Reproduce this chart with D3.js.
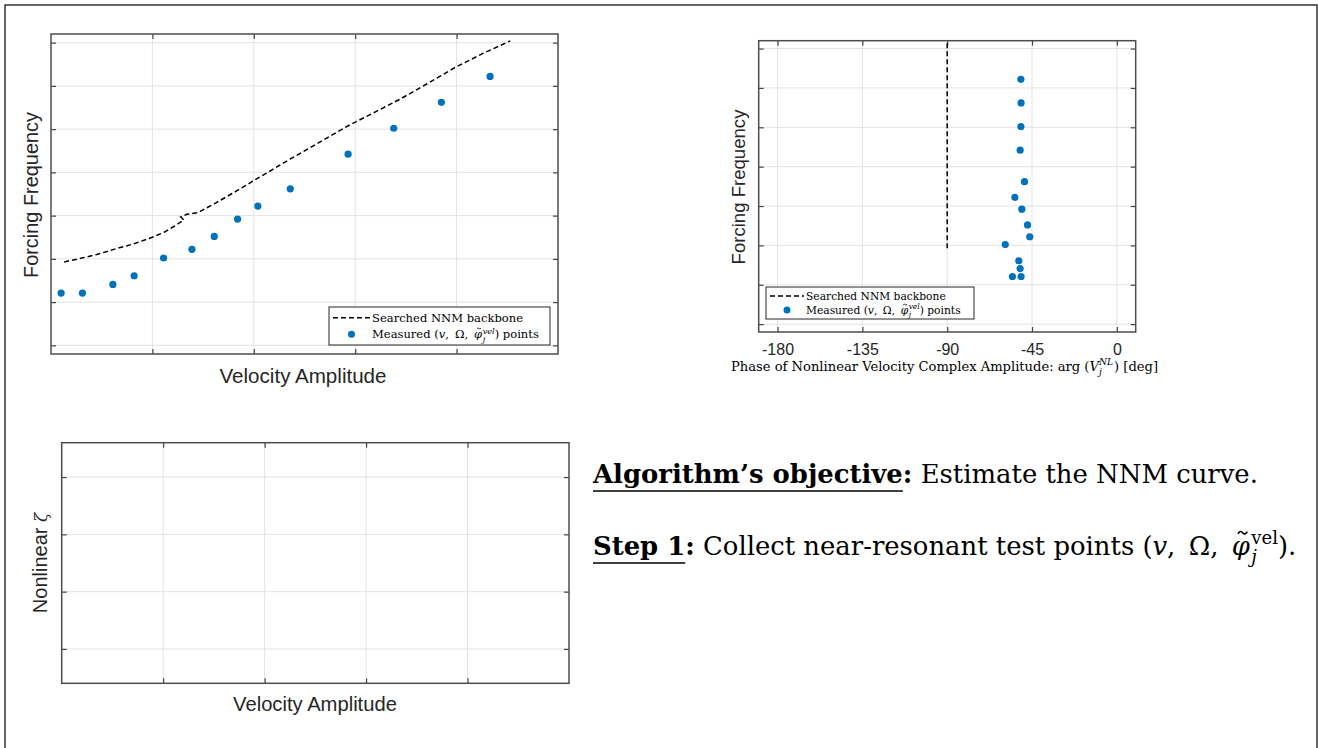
<!DOCTYPE html>
<html><head><meta charset="utf-8">
<script src="https://cdn.jsdelivr.net/npm/d3@7"></script>
<style>body{margin:0;background:#fff}svg{display:block}</style>
</head><body>
<svg id="c" width="1318" height="748"></svg>
<script>
// ---------- data ----------
const velocity  = [0.10, 0.31, 0.61, 0.82, 1.11, 1.39, 1.61, 1.84, 2.04, 2.36, 2.93, 3.38, 3.85, 4.33];
const frequency = [1.21, 1.21, 1.41, 1.61, 2.02, 2.22, 2.52, 2.92, 3.22, 3.62, 4.42, 5.02, 5.62, 6.22];
const phase     = [-55.4, -50.8, -51.3, -52.0, -59.2, -46.2, -47.4, -50.4, -54.1, -49.0, -51.3, -50.9, -50.8, -50.9];
const backboneVelocity  = [0.13, 0.27, 0.45, 0.62, 0.82, 1.00, 1.12, 1.22, 1.31, 1.28, 1.34, 1.45, 1.63, 1.83, 2.00, 2.18, 2.36, 2.65, 2.94, 3.20, 3.44, 3.71, 3.98, 4.25, 4.53];
const backboneFrequency = [1.93, 2.00, 2.10, 2.22, 2.35, 2.50, 2.62, 2.76, 2.90, 2.97, 3.03, 3.07, 3.30, 3.57, 3.81, 4.06, 4.31, 4.70, 5.09, 5.40, 5.69, 6.05, 6.42, 6.74, 7.04];
const backbonePhase          = [-90, -90];
const backbonePhaseFrequency = [1.93, 7.2];
const phaseTicks     = [-180, -135, -90, -45, 0];
const velocityTicks  = [1, 2, 3, 4];
const frequencyTicks = [0, 1, 2, 3, 4, 5, 6, 7];
const zetaTicks      = [0, 1, 2, 3];

// ---------- setup ----------
const svg = d3.select("#c");
const SANS = "'Liberation Sans', Arial, Helvetica, sans-serif";
const SERIF = "'DejaVu Serif', 'Liberation Serif', serif";
const BLUE = "#0072BD";

svg.append("rect").attr("x", 5).attr("y", 5).attr("width", 1312).attr("height", 770)
  .attr("fill", "none").attr("stroke", "#333").attr("stroke-width", 1.5);

function fit(t, target) {
  const w = t.node().getComputedTextLength();
  const fs = parseFloat(t.attr("font-size"));
  const nfs = fs * target / w;
  t.attr("font-size", nfs.toFixed(2));
  return nfs;
}

function panel(p, xDom, yDom, xTicks, yTicks, xLabeled) {
  const x = d3.scaleLinear().domain(xDom).range([p.l, p.r]);
  const y = d3.scaleLinear().domain(yDom).range([p.b, p.t]);
  const g = svg.append("g");
  g.append("g").selectAll("line").data(xTicks).join("line")
    .attr("x1", d => x(d)).attr("x2", d => x(d)).attr("y1", p.t).attr("y2", p.b)
    .attr("stroke", "#e3e3e3").attr("stroke-width", 1);
  g.append("g").selectAll("line").data(yTicks).join("line")
    .attr("y1", d => y(d)).attr("y2", d => y(d)).attr("x1", p.l).attr("x2", p.r)
    .attr("stroke", "#e3e3e3").attr("stroke-width", 1);
  const ax = (axis, tr) => {
    const a = g.append("g").attr("transform", tr).call(axis);
    a.select(".domain").remove();
    a.selectAll(".tick line").attr("stroke", "#444").attr("stroke-width", 1.2);
    return a;
  };
  const bx = ax(d3.axisBottom(x).tickValues(xTicks).tickSizeInner(-5).tickSizeOuter(0).tickPadding(12)
      .tickFormat(xLabeled ? (d => String(d)) : ""), `translate(0,${p.b})`);
  bx.selectAll("text").attr("font-family", SANS).attr("font-size", 16).attr("fill", "#262626");
  ax(d3.axisTop(x).tickValues(xTicks).tickSizeInner(-5).tickSizeOuter(0).tickFormat(""), `translate(0,${p.t})`);
  ax(d3.axisLeft(y).tickValues(yTicks).tickSizeInner(-5).tickSizeOuter(0).tickFormat(""), `translate(${p.l},0)`);
  ax(d3.axisRight(y).tickValues(yTicks).tickSizeInner(-5).tickSizeOuter(0).tickFormat(""), `translate(${p.r},0)`);
  g.append("rect").attr("x", p.l).attr("y", p.t).attr("width", p.r - p.l).attr("height", p.b - p.t)
    .attr("fill", "none").attr("stroke", "#4d4d4d").attr("stroke-width", 1.5);
  return { x, y, g };
}

function label(txt, x, y, rot, target, fs) {
  const t = svg.append("text").attr("font-family", SANS).attr("font-size", fs || 20).attr("fill", "#262626")
    .attr("text-anchor", "middle")
    .attr("transform", `translate(${x},${y}) rotate(${rot})`).text(txt);
  if (target) fit(t, target);
  return t;
}

// tilde accent (drawn as a path) over a tspan's first glyph
function tilde(g, tsp, fs, baseline) {
  const e = tsp.node().getExtentOfChar(0);
  const cx = e.x + e.width * 0.6, w = fs * 0.36, h = fs * 0.07;
  const y0 = baseline - fs * 0.86, x0 = cx - w / 2;
  g.append("path")
    .attr("d", `M${x0},${y0 + h * 0.6} Q${x0 + w / 4},${y0 - h * 1.6} ${x0 + w / 2},${y0} T${x0 + w},${y0 - h * 0.6}`)
    .attr("fill", "none").attr("stroke", "#000").attr("stroke-width", Math.max(0.8, fs * 0.065));
}

// phi with stacked sub j / superscript vel
function phiVel(g, t, fs, baseline, supItalic) {
  const phi = t.append("tspan").attr("font-style", "italic").text("\u03C6");
  const sup = t.append("tspan").attr("font-size", fs * 0.7).attr("dx", fs * 0.05).attr("dy", -fs * 0.42).text("vel");
  if (supItalic) sup.attr("font-style", "italic");
  const supW = sup.node().getComputedTextLength();
  const sub = t.append("tspan").attr("font-style", "italic").attr("font-size", fs * 0.7).attr("dx", -supW).attr("dy", fs * 0.72).text("j");
  const subW = sub.node().getComputedTextLength();
  tilde(g, phi, fs, baseline);
  return { supW, subW };
}

// legend with math
function legend(x0, y0, w, h, target, sampleW) {
  const g = svg.append("g");
  g.append("rect").attr("x", x0).attr("y", y0).attr("width", w).attr("height", h)
    .attr("fill", "#fff").attr("stroke", "#262626").attr("stroke-width", 1);
  const r1 = y0 + h * 0.28, r2 = y0 + h * 0.72;
  g.append("line").attr("x1", x0 + 4).attr("x2", x0 + 4 + sampleW).attr("y1", r1).attr("y2", r1)
    .attr("stroke", "#000").attr("stroke-width", 1.5).attr("stroke-dasharray", "5,3");
  g.append("circle").attr("cx", x0 + 4 + sampleW / 2).attr("cy", r2).attr("r", 3.5).attr("fill", BLUE);
  const tx = x0 + 6 + sampleW;
  const t1 = g.append("text").attr("x", tx).attr("font-family", SERIF).attr("font-size", 12)
    .attr("fill", "#000").text("Searched NNM backbone");
  const fs = fit(t1, target);
  t1.attr("y", r1 + fs * 0.35);
  const b2 = r2 + fs * 0.35;
  const t = g.append("text").attr("x", tx).attr("y", b2).attr("font-family", SERIF).attr("font-size", fs).attr("fill", "#000");
  t.append("tspan").text("Measured (");
  t.append("tspan").attr("font-style", "italic").text("v");
  t.append("tspan").text(", \u2009\u03A9, \u2009");
  const m = phiVel(g, t, fs, b2, true);
  t.append("tspan").attr("dx", m.supW - m.subW).attr("dy", -fs * 0.30).text(") points");
}

// ---------- panel 1 ----------
const P1 = { l: 51, r: 558, t: 34, b: 354 };
const c1 = panel(P1, [0, 5], [-0.2, 7.2], velocityTicks, frequencyTicks, false);
const bb = backboneVelocity.map((v, i) => [v, backboneFrequency[i]]);
c1.g.append("path").datum(bb)
  .attr("d", d3.line().x(d => c1.x(d[0])).y(d => c1.y(d[1])))
  .attr("fill", "none").attr("stroke", "#000").attr("stroke-width", 1.5).attr("stroke-dasharray", "5,3");
c1.g.append("g").selectAll("circle").data(velocity.map((v, i) => [v, frequency[i]])).join("circle")
  .attr("cx", d => c1.x(d[0])).attr("cy", d => c1.y(d[1])).attr("r", 3.6).attr("fill", BLUE);
legend(329, 307, 221, 38, 151, 37);
label("Forcing Frequency", 38, 195, -90, 166);
label("Velocity Amplitude", 303, 383, 0, 167);

// ---------- panel 2 ----------
const P2 = { l: 758.7, r: 1135.7, t: 40.7, b: 332 };
const c2 = panel(P2, [-190, 10], [-0.2, 7.2], phaseTicks, frequencyTicks, true);
c2.g.append("path").datum(backbonePhase.map((p, i) => [p, backbonePhaseFrequency[i]]))
  .attr("d", d3.line().x(d => c2.x(d[0])).y(d => c2.y(d[1])))
  .attr("fill", "none").attr("stroke", "#000").attr("stroke-width", 1.5).attr("stroke-dasharray", "5,3");
c2.g.append("g").selectAll("circle").data(phase.map((p, i) => [p, frequency[i]])).join("circle")
  .attr("cx", d => c2.x(d[0])).attr("cy", d => c2.y(d[1])).attr("r", 3.6).attr("fill", BLUE);
legend(766, 287, 208, 32, 140, 34);
label("Forcing Frequency", 745, 187, -90, 155);
{
  const fs = 13.1;
  const t = svg.append("text").attr("x", 731).attr("y", 371)
    .attr("font-family", SERIF).attr("font-size", fs).attr("fill", "#000");
  t.append("tspan").text("Phase of Nonlinear Velocity Complex Amplitude: arg (");
  t.append("tspan").attr("font-style", "italic").text("V");
  const sup = t.append("tspan").attr("font-style", "italic").attr("font-size", fs * 0.7).attr("dy", -fs * 0.45).text("NL");
  const supW = sup.node().getComputedTextLength();
  const sub = t.append("tspan").attr("font-style", "italic").attr("font-size", fs * 0.7).attr("dx", -supW).attr("dy", fs * 0.75).text("j");
  const subW = sub.node().getComputedTextLength();
  t.append("tspan").attr("dx", supW - subW + 1).attr("dy", -fs * 0.30).text(") [deg]");
}

// ---------- panel 3 ----------
const P3 = { l: 61.7, r: 569, t: 442.7, b: 683.3 };
panel(P3, [0, 5], [-0.6, 3.6], velocityTicks, zetaTicks, false);
{
  const t = svg.append("text").attr("font-family", SANS).attr("font-size", 20).attr("fill", "#262626")
    .attr("text-anchor", "middle").attr("transform", "translate(47,563) rotate(-90)");
  t.append("tspan").text("Nonlinear ");
  t.append("tspan").attr("font-family", SERIF).attr("font-style", "italic").attr("font-size", 17).text("\u03B6");
}
label("Velocity Amplitude", 315, 711, 0, 164);

// ---------- text block ----------
{
  const t1 = svg.append("text").attr("x", 593).attr("y", 483).attr("font-family", SERIF).attr("font-size", 24).attr("fill", "#000");
  const b1 = t1.append("tspan").attr("font-weight", "bold").text("Algorithm\u2019s objective");
  t1.append("tspan").attr("font-weight", "bold").text(":");
  t1.append("tspan").text(" Estimate the NNM curve.");
  const fs = fit(t1, 665);
  const w1 = b1.node().getComputedTextLength();
  svg.append("line").attr("x1", 593).attr("x2", 593 + w1).attr("y1", 491).attr("y2", 491).attr("stroke", "#000").attr("stroke-width", 1.5);

  const g2 = svg.append("g");
  const t2 = g2.append("text").attr("x", 593).attr("y", 555).attr("font-family", SERIF).attr("font-size", fs).attr("fill", "#000");
  const b2 = t2.append("tspan").attr("font-weight", "bold").text("Step 1");
  t2.append("tspan").attr("font-weight", "bold").text(":");
  t2.append("tspan").text(" Collect near-resonant test points (");
  t2.append("tspan").attr("font-style", "italic").text("v");
  t2.append("tspan").text(", \u2009\u03A9, \u2009");
  const m = phiVel(g2, t2, fs, 555, false);
  t2.append("tspan").attr("dx", m.supW - m.subW).attr("dy", -fs * 0.30).text(").");
  const w2 = b2.node().getComputedTextLength();
  svg.append("line").attr("x1", 593).attr("x2", 593 + w2).attr("y1", 563).attr("y2", 563).attr("stroke", "#000").attr("stroke-width", 1.5);
}
</script>
</body></html>
